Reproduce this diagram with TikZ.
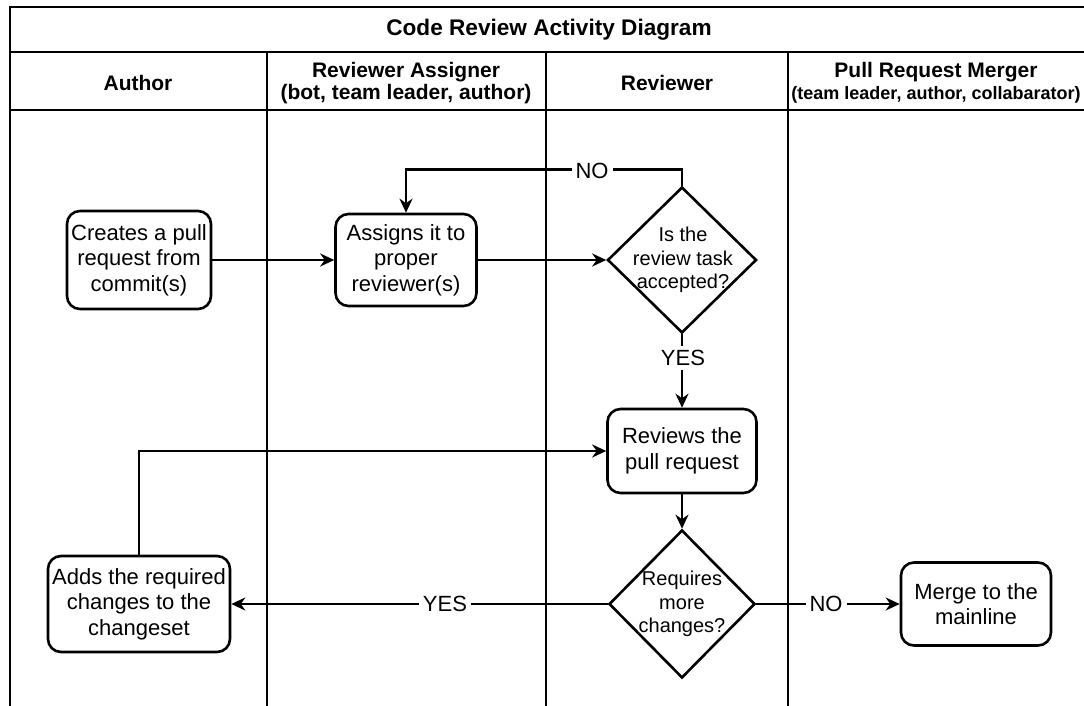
\documentclass[tikz,border=0pt]{standalone}
\usepackage{fontspec}
\setmainfont{Liberation Sans}
\usetikzlibrary{shapes.geometric,arrows.meta}
\tikzset{
  ln/.style={line width=2.6pt},
  act/.style={draw, line width=2.6pt, rounded corners=13pt, align=center,
    font=\fontsize{22}{25.5}\selectfont, inner sep=0pt},
  dec/.style={draw, diamond, line width=2.6pt, inner sep=0pt},
  dectext/.style={align=center, font=\fontsize{20}{23.5}\selectfont, inner sep=0pt},
  lbl/.style={fill=white, font=\fontsize{22}{25.5}\selectfont, inner sep=4pt},
  arr/.style={line width=2.6pt, -{Stealth[length=14pt,width=13pt,inset=4.5pt]}},
  ttl/.style={font=\bfseries\fontsize{22.6}{25.5}\selectfont, inner sep=0pt},
  hdr/.style={font=\bfseries\fontsize{21}{22.5}\selectfont, align=center, inner sep=0pt},
}
\begin{document}
\begin{tikzpicture}[x=1pt,y=-1pt]
\useasboundingbox (0,0) rectangle (1084,706);
\clip (0,0) rectangle (1084,706);
\fill[white] (0,0) rectangle (1084,706);
% frame and lanes
\draw[ln] (10,720) -- (10,7) -- (1092,7) -- (1092,720);
\draw[ln] (10,52) -- (1092,52);
\draw[ln] (10,110) -- (1092,110);
\draw[ln] (267,52) -- (267,720);
\draw[ln] (546,52) -- (546,720);
\draw[ln] (788,52) -- (788,720);
% headers
\node[ttl] (title) at (549,30) {Code Review Activity Diagram};
\node[hdr] (hA) at (138,83) {Author};
\node[hdr] (hB) at (406,83) {Reviewer Assigner\\(bot, team leader, author)};
\node[hdr] (hC) at (667,83) {Reviewer};
\node[hdr] (hD) at (936,83) {Pull Request Merger\\{\fontsize{18}{21}\selectfont (team leader, author, collabarator)}};
% activities
\node[act, minimum width=144, minimum height=98] (create) at (139,260)
  {Creates a pull\\request from\\commit(s)};
\node[act, minimum width=141, minimum height=92] (assign) at (406,260)
  {Assigns it to\\proper\\reviewer(s)};
\node[dec, minimum width=149, minimum height=146] (acc) at (682,260) {};
\node[dectext] (acct) at (683,260) {Is the\\review task\\accepted?};
\node[act, minimum width=149, minimum height=84] (rev) at (682,451)
  {Reviews the\\pull request};
\node[dec, minimum width=146, minimum height=148] (req) at (682,604) {};
\node[dectext] (reqt) at (682,604) {Requires\\more\\changes?};
\node[act, minimum width=150, minimum height=83] (merge) at (976,604)
  {Merge to the\\mainline};
\node[act, minimum width=182, minimum height=96] (adds) at (139,604)
  {Adds the required\\changes to the\\changeset};
% connectors
\draw[arr] (create.east) -- (assign.west);
\draw[arr] (assign.east) -- (acc.west);
\draw[arr] (acc.north) -- ++(0,-16) -| (assign.north);
\draw[arr] (acc.south) -- (rev.north);
\draw[arr] (rev.south) -- (req.north);
\draw[arr] (req.west) -- (adds.east);
\draw[arr] (req.east) -- (merge.west);
\draw[arr] (adds.north) |- (rev.west);
% labels
\node[lbl] (no1) at (592,171) {NO};
\node[lbl] (yes1) at (683,358) {YES};
\node[lbl] (yes2) at (445,604) {YES};
\node[lbl] (no2) at (826,604) {NO};
\end{tikzpicture}
\end{document}
